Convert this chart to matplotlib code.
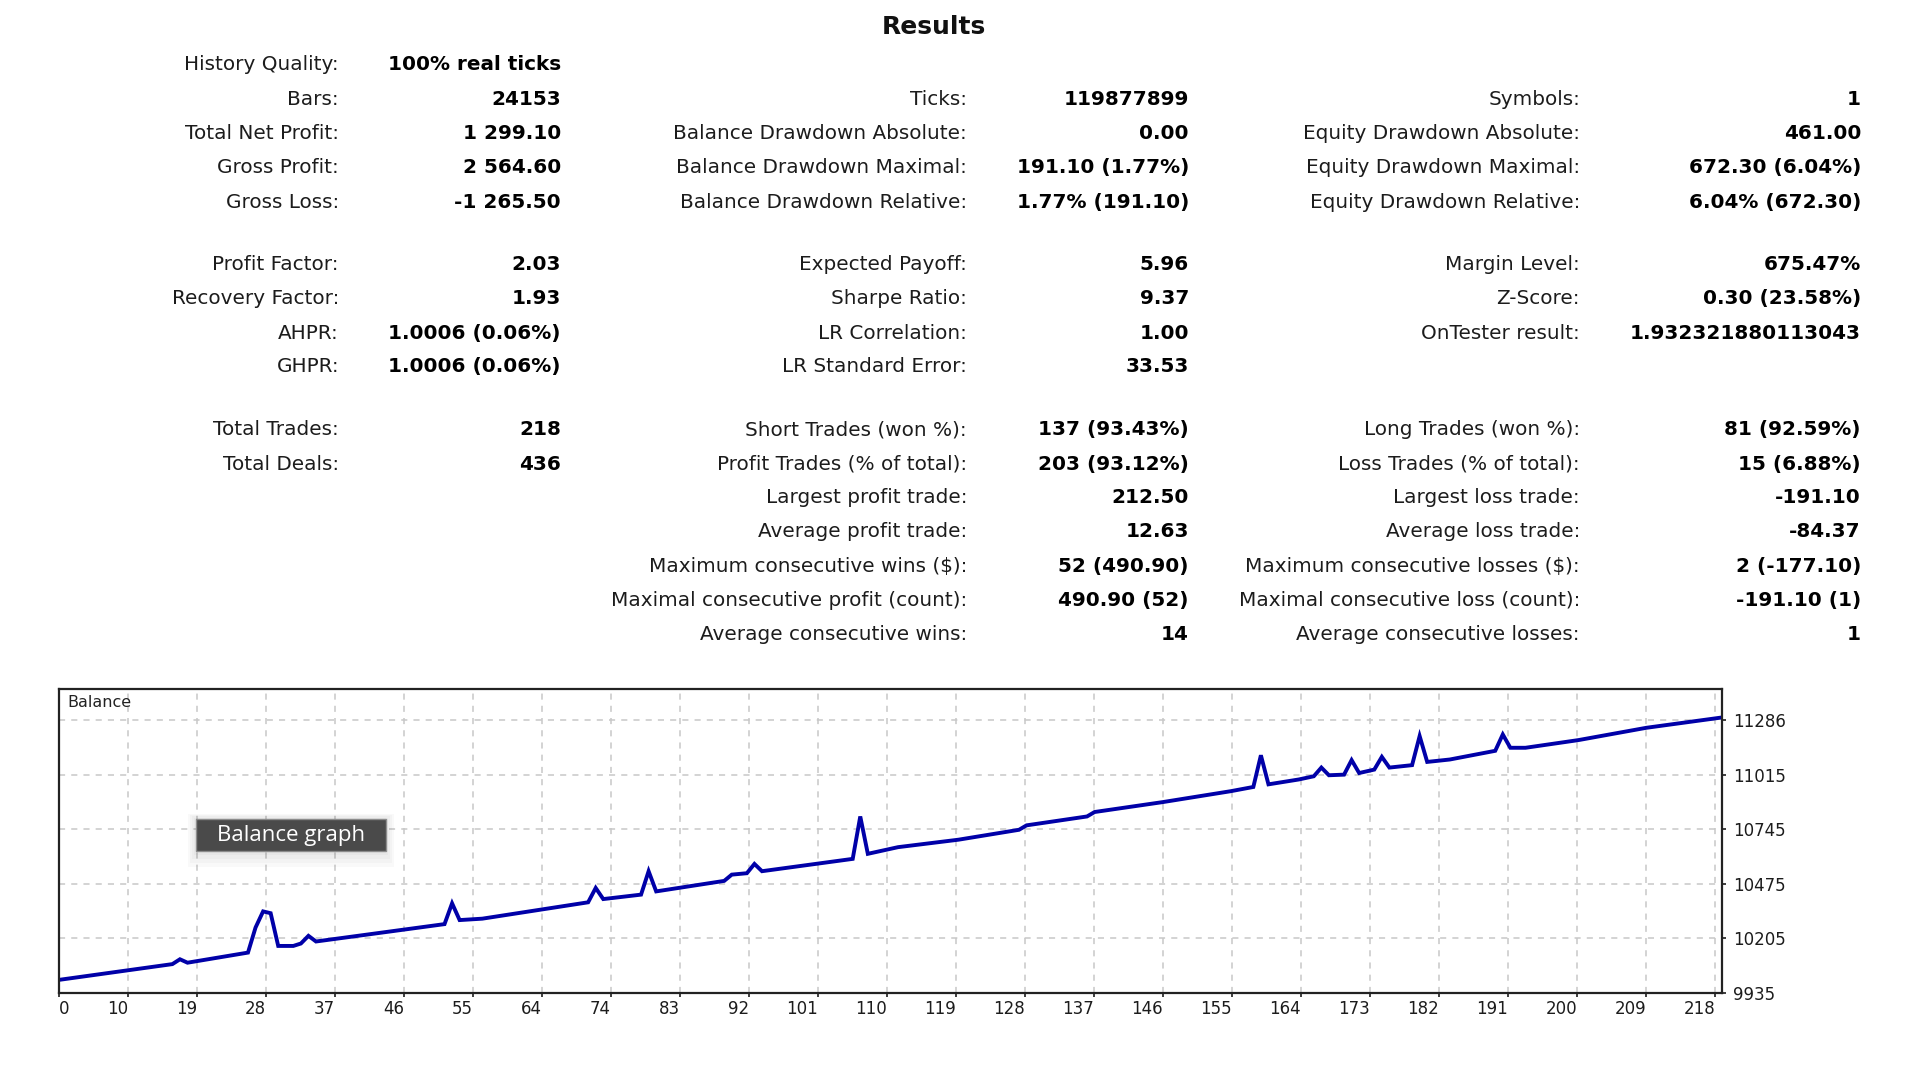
import matplotlib
matplotlib.use("Agg")
import matplotlib.pyplot as plt
import matplotlib.patches as mpatches
import numpy as np

plt.rcParams['font.family'] = ['DejaVu Sans']

# balance curve (trade number, balance)
trade_no = [0, 15, 16, 17, 25, 26, 27, 28, 29, 31, 32, 33, 34, 51, 52, 53, 56,
            70, 71, 72, 77, 78, 79, 88, 89, 91, 92, 93, 105, 106, 107, 111,
            119, 127, 128, 136, 137, 146, 155, 158, 159, 160, 164, 166, 167,
            168, 170, 171, 172, 174, 175, 176, 179, 180, 181, 184, 190, 191,
            192, 194, 201, 210, 220]
balance = [10000, 10078, 10102, 10085, 10135, 10259, 10339, 10330, 10168,
           10168, 10180, 10218, 10190, 10276, 10379, 10296, 10303,
           10384, 10455, 10400, 10422, 10538, 10438, 10490, 10521, 10528,
           10574, 10538, 10599, 10809, 10624, 10657,
           10694, 10743, 10765, 10809, 10831, 10880, 10934, 10955, 11112,
           10968, 10992, 11008, 11051, 11013, 11016, 11088, 11024, 11041,
           11104, 11051, 11063, 11207, 11079, 11091, 11134, 11215, 11149,
           11149, 11187, 11248, 11299.1]

x_labels = ["0", "10", "19", "28", "37", "46", "55", "64", "74", "83", "92",
            "101", "110", "119", "128", "137", "146", "155", "164", "173",
            "182", "191", "200", "209", "218"]
y_ticks = [9935, 10205, 10475, 10745, 11015, 11286]

# report table: 16 rows, None = empty cell
col1_labels = ["History Quality:", "Bars:", "Total Net Profit:", "Gross Profit:",
               "Gross Loss:", "Profit Factor:", "Recovery Factor:", "AHPR:",
               "GHPR:", "Total Trades:", "Total Deals:", None, None, None,
               None, None]
col1_values = ["100% real ticks", "24153", "1 299.10", "2 564.60", "-1 265.50",
               "2.03", "1.93", "1.0006 (0.06%)", "1.0006 (0.06%)", "218",
               "436", None, None, None, None, None]
col2_labels = [None, "Ticks:", "Balance Drawdown Absolute:",
               "Balance Drawdown Maximal:", "Balance Drawdown Relative:",
               "Expected Payoff:", "Sharpe Ratio:", "LR Correlation:",
               "LR Standard Error:", "Short Trades (won %):",
               "Profit Trades (% of total):", "Largest profit trade:",
               "Average profit trade:", "Maximum consecutive wins ($):",
               "Maximal consecutive profit (count):",
               "Average consecutive wins:"]
col2_values = [None, "119877899", "0.00", "191.10 (1.77%)", "1.77% (191.10)",
               "5.96", "9.37", "1.00", "33.53", "137 (93.43%)",
               "203 (93.12%)", "212.50", "12.63", "52 (490.90)",
               "490.90 (52)", "14"]
col3_labels = [None, "Symbols:", "Equity Drawdown Absolute:",
               "Equity Drawdown Maximal:", "Equity Drawdown Relative:",
               "Margin Level:", "Z-Score:", "OnTester result:", None,
               "Long Trades (won %):", "Loss Trades (% of total):",
               "Largest loss trade:", "Average loss trade:",
               "Maximum consecutive losses ($):",
               "Maximal consecutive loss (count):",
               "Average consecutive losses:"]
col3_values = [None, "1", "461.00", "672.30 (6.04%)", "6.04% (672.30)",
               "675.47%", "0.30 (23.58%)", "1.932321880113043", None,
               "81 (92.59%)", "15 (6.88%)", "-191.10", "-84.37",
               "2 (-177.10)", "-191.10 (1)", "1"]

W, H = 1920, 1080
fig = plt.figure(figsize=(19.2, 10.8), dpi=100)
fig.patch.set_facecolor("white")

def fx(px):
    return px / W

def fy(py):
    return 1 - py / H

fig.text(fx(934), fy(27), "Results", ha="center", va="center",
         fontsize=18, fontweight="bold", color="#111111")

row_y = [64.9, 99.2, 133.5, 167.8, 202.1,
         264.5, 298.8, 333.1, 366.8,
         429.8, 464.1, 497.8, 531.9, 566.1, 600.3, 634.5]

columns = [(col1_labels, col1_values, 339, 561),
           (col2_labels, col2_values, 967, 1189),
           (col3_labels, col3_values, 1580, 1861)]
for labels, values, lx, vx in columns:
    for i, (lab, val) in enumerate(zip(labels, values)):
        if lab:
            fig.text(fx(lx), fy(row_y[i]), lab, ha="right", va="center",
                     fontsize=14.4, color="#1c1c1c")
        if val:
            fig.text(fx(vx), fy(row_y[i]), val, ha="right", va="center",
                     fontsize=14.4, fontweight="bold", color="#000000")

# balance graph
ax = fig.add_axes([fx(59), fy(993), (1722 - 59) / W, (993 - 689) / H])
ax.plot(trade_no, balance, color="#0000a8", lw=2.8, solid_joinstyle="miter")
ax.set_xlim(0, 220)
ax.set_ylim(9935, 11440)

ax.set_xticks(np.linspace(0, 219.1, len(x_labels)))
ax.set_xticklabels(x_labels)
ax.set_yticks(y_ticks)
ax.set_yticklabels([str(v) for v in y_ticks])
ax.yaxis.tick_right()
ax.tick_params(axis="x", length=3, width=1.2, pad=2, labelsize=12,
               colors="#1c1c1c")
ax.tick_params(axis="y", length=3, width=1.2, pad=5, labelsize=12,
               colors="#1c1c1c")
for i, lbl in enumerate(ax.get_xticklabels()):
    lbl.set_ha("left" if i == 0 else "right")

ax.grid(True, color="#c8c8c8", linestyle=(0, (4, 4)), lw=1.1)
for sp in ax.spines.values():
    sp.set_color("#222222")
    sp.set_linewidth(1.6)

ax.text(0.005, 0.954, "Balance", transform=ax.transAxes, ha="left",
        va="center", fontsize=11.5, color="#222222")

# tooltip label with a soft shadow
bx, by, bw, bh = 0.0824, 0.467, 0.1143, 0.105
for k in range(1, 5):
    dx, dy = 0.0012 * k, 0.011 * k
    ax.add_patch(mpatches.Rectangle((bx - dx, by - dy * 1.2), bw + 2 * dx,
                                    bh + dy * 1.6, transform=ax.transAxes,
                                    facecolor="black", alpha=0.025, lw=0,
                                    zorder=4))
ax.add_patch(mpatches.Rectangle((bx, by), bw, bh,
                                transform=ax.transAxes, facecolor="#4a4a4a",
                                edgecolor="#8c8c8c", lw=1.0, zorder=5))
ax.text(bx + bw / 2, by + bh / 2, "Balance graph",
        transform=ax.transAxes, ha="center", va="center", fontsize=16,
        color="white", family=["Open Sans", "DejaVu Sans"], zorder=6)

fig.savefig("out.png", dpi=100)
